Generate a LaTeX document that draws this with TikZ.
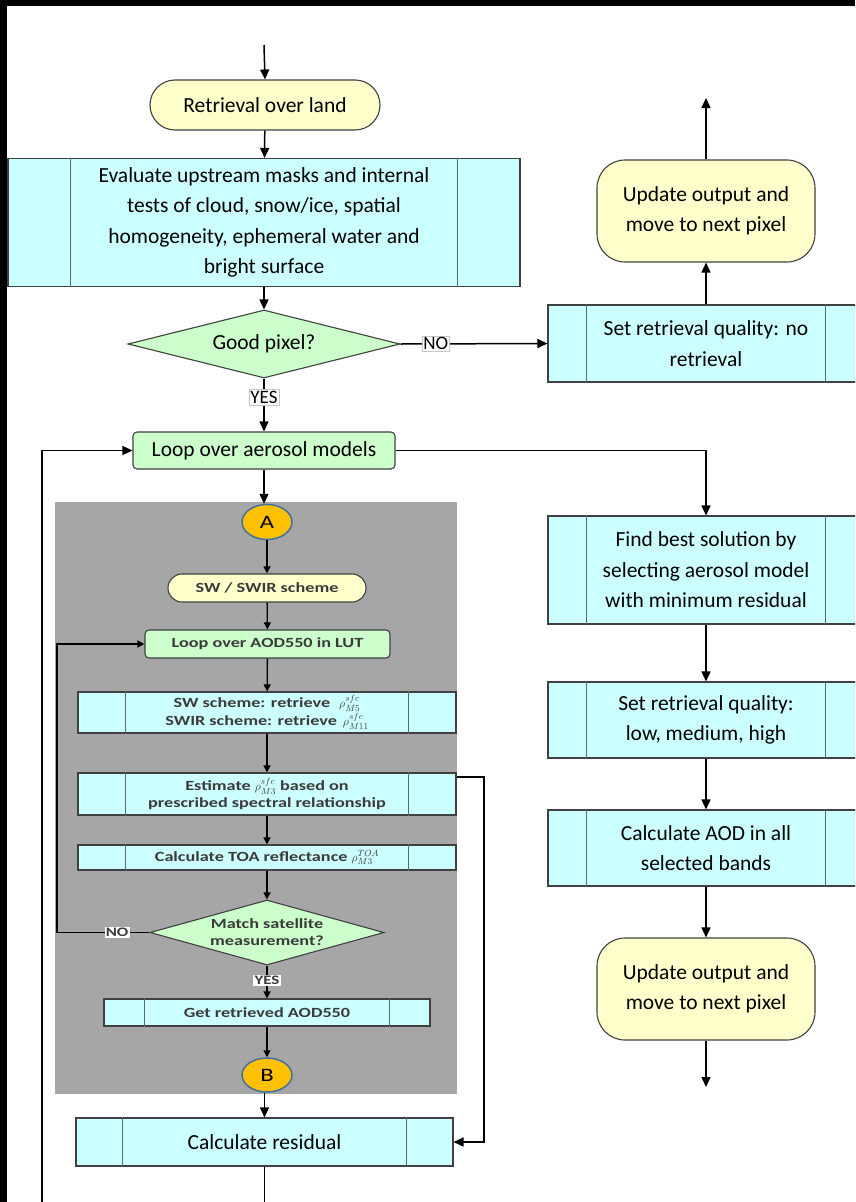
\documentclass[tikz,border=0pt]{standalone}
\usepackage{fontspec}
\setmainfont{Carlito}
\newfontfamily\panelfont[FakeStretch=1.3]{Carlito}
\usetikzlibrary{shapes.geometric,arrows.meta,calc}

\definecolor{procfill}{HTML}{CCFFFF}
\definecolor{termfill}{HTML}{FFFFCC}
\definecolor{loopfill}{HTML}{CCFFCC}
\definecolor{edgegray}{HTML}{404040}
\definecolor{divgray}{HTML}{5A6A6A}
\definecolor{panelgray}{HTML}{A6A6A6}
\definecolor{connfill}{HTML}{FFC000}
\definecolor{connedge}{HTML}{41719C}
\definecolor{inktext}{HTML}{3A3A3A}

% small reflectance symbol used inside the sub-flow boxes
\newcommand{\refl}[2]{{\fontsize{12.5}{12.5}\selectfont$\rho^{#1}_{#2}$}}

\begin{document}
\begin{tikzpicture}[x=1pt,y=-1pt,
  every node/.style={inner sep=0pt, align=center},
  big/.style={font=\fontsize{21.5}{30.5}\selectfont},
  small/.style={font=\panelfont\fontsize{14}{17}\selectfont\bfseries, text=inktext},
  proc/.style={rectangle, draw=edgegray, line width=1.1pt, fill=procfill},
  term/.style={rectangle, draw=edgegray, line width=1.1pt, fill=termfill},
  loopbox/.style={rectangle, rounded corners=4pt, draw=edgegray, line width=1.1pt, fill=loopfill},
  decision/.style={diamond, aspect=4, draw=edgegray, line width=1.1pt, fill=loopfill},
  connector/.style={ellipse, draw=connedge, line width=1.5pt, fill=connfill,
                    font=\panelfont\fontsize{19}{19}\selectfont},
  divider/.style={draw=divgray, line width=1pt},
  lbl/.style={fill=white, draw=gray!45, line width=0.6pt, inner sep=1.5pt,
              font=\fontsize{19}{19}\selectfont},
  slbl/.style={fill=white, inner sep=1.2pt, font=\panelfont\fontsize{13}{13}\selectfont\bfseries, text=inktext},
  conn/.style={line width=1.5pt, -{Triangle[length=10pt,width=9pt]}},
  iconn/.style={line width=1.3pt, -{Triangle[length=7pt,width=7pt]}},
  line/.style={line width=1.5pt},
  iline/.style={line width=1.3pt}
]
\useasboundingbox (0,0) rectangle (855,1202);
\clip (0,0) rectangle (855,1202);

% page frame
\fill[black] (0,0) rectangle (855,1202);
\fill[white] (7,6) rectangle (855,1202);

% ---------------- main column ----------------
\coordinate (start) at (264,45);
\node[term, big, rounded corners=25pt, minimum width=230pt, minimum height=50pt]
  (land) at (265,105) {Retrieval over land};
\node[proc, big, minimum width=512pt, minimum height=128pt]
  (eval) at (264,222.5) {Evaluate upstream masks and internal\\tests of cloud, snow/ice, spatial\\homogeneity, ephemeral water and\\bright surface};
\node[decision, big, minimum width=272pt, minimum height=68pt]
  (good) at (264,344) {Good pixel?};
\node[proc, big, minimum width=316pt, minimum height=77pt]
  (noret) at (706,343.5) {Set retrieval quality: no\\retrieval};
\node[term, big, rounded corners=28pt, minimum width=218pt, minimum height=102pt]
  (upd1) at (706,211) {Update output and\\move to next pixel};
\coordinate (up1) at (706,98);
\node[loopbox, big, minimum width=262pt, minimum height=37pt]
  (loopaer) at (264,450.5) {Loop over aerosol models};

% ---------------- embedded sub-flow ----------------
\fill[panelgray] (55,502) rectangle (457,1094);
\node[connector, minimum width=50pt, minimum height=35pt] (A) at (267,522) {A};
\node[term, small, rounded corners=14pt, minimum width=198pt, minimum height=28pt]
  (sw) at (267,588) {SW / SWIR scheme};
\node[loopbox, small, minimum width=245pt, minimum height=28pt]
  (lut) at (267.5,644) {Loop over AOD550 in LUT};
\node[proc, small, font=\panelfont\fontsize{14}{18}\selectfont\bfseries,
      minimum width=378pt, minimum height=41pt]
  (swbox) at (267,712.5) {SW scheme: retrieve\hspace{9pt}\refl{sfc}{M5}\\SWIR scheme: retrieve\hspace{6pt}\refl{sfc}{M11}};
\node[proc, small, minimum width=378pt, minimum height=42pt]
  (est) at (267,794) {Estimate \refl{sfc}{M3} based on\\prescribed spectral relationship};
\node[proc, small, minimum width=378pt, minimum height=25pt]
  (toa) at (267,857.5) {Calculate TOA reflectance \refl{TOA}{M3}};
\node[decision, small, minimum width=234pt, minimum height=65pt]
  (match) at (267,932.5) {Match satellite\\measurement?};
\node[proc, small, minimum width=326pt, minimum height=27pt]
  (get) at (267,1012.5) {Get retrieved AOD550};
\node[connector, minimum width=50pt, minimum height=34pt] (B) at (267,1075) {B};
\coordinate (lutloop) at (57,932.5);

% ---------------- after the sub-flow ----------------
\node[proc, big, minimum width=377pt, minimum height=48pt]
  (resid) at (264.5,1142) {Calculate residual};
\coordinate (endmain) at (264.5,1202);
\coordinate (aerloop) at (42,1202);
\coordinate (sidebus) at (484,777);

% ---------------- right column ----------------
\node[proc, big, minimum width=316pt, minimum height=108pt]
  (best) at (706,570) {Find best solution by\\selecting aerosol model\\with minimum residual};
\node[proc, big, minimum width=316pt, minimum height=76pt]
  (qual) at (706,720) {Set retrieval quality:\\low, medium, high};
\node[proc, big, minimum width=316pt, minimum height=76pt]
  (aod) at (706,848) {Calculate AOD in all\\selected bands};
\node[term, big, rounded corners=28pt, minimum width=218pt, minimum height=102pt]
  (upd2) at (706,989) {Update output and\\move to next pixel};
\coordinate (down2) at (706,1087);

% process-box side bars
\foreach \n/\d in {eval/63, noret/39, best/39, qual/39, aod/39, resid/47, swbox/48, est/48, toa/48, get/41}
  \draw[divider] ([xshift=\d pt]\n.north west) -- ([xshift=\d pt]\n.south west)
                 ([xshift=-\d pt]\n.north east) -- ([xshift=-\d pt]\n.south east);

% ---------------- connectors ----------------
\draw[conn] (start) -- (land.north);
\draw[conn] (land) -- (eval);
\draw[conn] (eval) -- (good);
\draw[conn] (good.east) -- node[lbl, pos=0.24] {NO} (noret.west);
\draw[conn] (noret) -- (upd1);
\draw[conn] (upd1) -- (up1);
\draw[conn] (good.south) -- node[lbl, pos=0.35] {YES} (loopaer.north);
\draw[conn] (loopaer.east) -| (best.north);
\draw[conn] (aerloop) |- (loopaer.west);
\draw[conn] (loopaer.south) -- (loopaer.south |- A.north);

\draw[iconn] (A) -- (sw);
\draw[iconn] (sw) -- (lut);
\draw[iconn] (lut) -- (swbox);
\draw[iconn] (swbox) -- (est);
\draw[iconn] (est) -- (toa);
\draw[iconn] (toa) -- (match);
\draw[iline] (match.west) -- node[slbl, pos=0.35] {NO} (lutloop);
\draw[iconn] (lutloop) |- (lut.west);
\draw[iconn] (match.south) -- node[slbl, pos=0.45] {YES} (get.north);
\draw[iconn] (get) -- (B);

\draw[conn] (resid.north |- B.south) -- (resid.north);
\draw[conn] ([yshift=17pt]est.east) -- (sidebus) |- (resid.east);
\draw[line] (resid.south) -- (endmain);

\draw[conn] (best) -- (qual);
\draw[conn] (qual) -- (aod);
\draw[conn] (aod) -- (upd2);
\draw[conn] (upd2) -- (down2);
\end{tikzpicture}
\end{document}
